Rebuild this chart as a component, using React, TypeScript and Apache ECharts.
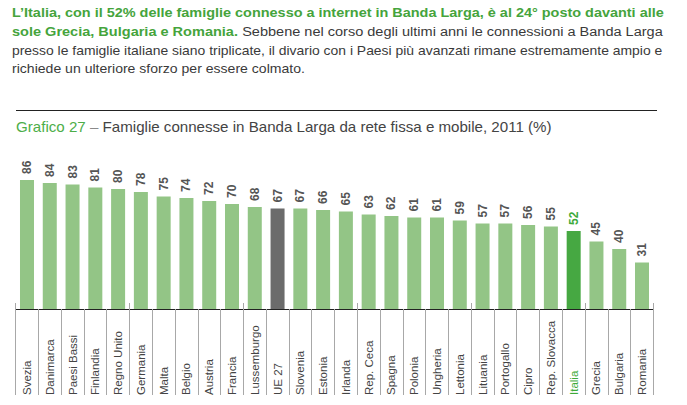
import React, { useEffect, useRef } from "react";
import * as echarts from "echarts";

const categories = [
  "Svezia", "Danimarca", "Paesi Bassi", "Finlandia", "Regno Unito", "Germania", "Malta",
  "Belgio", "Austria", "Francia", "Lussemburgo", "UE 27", "Slovenia", "Estonia", "Irlanda",
  "Rep. Ceca", "Spagna", "Polonia", "Ungheria", "Lettonia", "Lituania", "Portogallo", "Cipro",
  "Rep. Slovacca", "Italia", "Grecia", "Bulgaria", "Romania",
];
const values = [86, 84, 83, 81, 80, 78, 75, 74, 72, 70, 68, 67, 67, 66, 65, 63, 62, 61, 61, 59, 57, 57, 56, 55, 52, 45, 40, 31];

const headerLines = [
  [{ t: "L’Italia, con il 52% delle famiglie connesso a internet in Banda Larga, è al 24° posto davanti alle", g: true }],
  [
    { t: "sole Grecia, Bulgaria e Romania.", g: true },
    { t: " Sebbene nel corso degli ultimi anni le connessioni a Banda Larga", g: false },
  ],
  [{ t: "presso le famiglie italiane siano triplicate, il divario con i Paesi più avanzati rimane estremamente ampio e", g: false }],
  [{ t: "richiede un ulteriore sforzo per essere colmato.", g: false }],
];
const titleParts = [
  { t: "Grafico 27", c: "#4cae48" },
  { t: " – ", c: "#8a8a8a" },
  { t: "Famiglie connesse in Banda Larga da rete fissa e mobile, 2011 (%)", c: "#444444" },
];

const GREEN_TXT = "#45a43c";
const GRAY_TXT = "#3a3a3a";
const BAR = "#93c586";
const BAR_IT = "#46a842";
const BAR_EU = "#6b6b6b";
const FONT = "'Liberation Sans', Arial, sans-serif";

function measure(text: string, font: string): number {
  const c = document.createElement("canvas").getContext("2d")!;
  c.font = font;
  return c.measureText(text).width;
}

export default function App() {
  const ref = useRef<HTMLDivElement>(null);
  useEffect(() => {
    if (!ref.current) return;
    const chart = echarts.init(ref.current, null, { renderer: "svg" });

    const headerSize = 12.5;
    const lineTargets = [652, 651, 651, 293];
    const lineYs = [13, 32, 51, 69];
    const headerGraphics: any[] = headerLines.map((segs, li) => {
      let x = 0;
      const children: any[] = [];
      segs.forEach((s) => {
        const weight = s.g ? "bold" : "normal";
        const w = measure(s.t, `${weight} ${headerSize}px ${FONT}`);
        children.push({
          type: "text",
          x,
          y: 0,
          style: {
            text: s.t,
            fill: s.g ? GREEN_TXT : GRAY_TXT,
            fontSize: headerSize,
            fontFamily: FONT,
            fontWeight: weight,
            align: "left",
            verticalAlign: "middle",
          },
        });
        x += w;
      });
      return {
        type: "group",
        x: 12,
        y: lineYs[li],
        scaleX: lineTargets[li] / x,
        children,
      };
    });

    const titleSize = 15;
    let tx = 0;
    const titleChildren: any[] = titleParts.map((p) => {
      const w = measure(p.t, `normal ${titleSize}px ${FONT}`);
      const el = {
        type: "text",
        x: tx,
        y: 0,
        style: {
          text: p.t,
          fill: p.c,
          fontSize: titleSize,
          fontFamily: FONT,
          align: "left",
          verticalAlign: "middle",
        },
      };
      tx += w;
      return el;
    });

    const option: any = {
      animation: false,
      backgroundColor: "#ffffff",
      grid: {
        left: 15.6,
        right: 33.6,
        top: 159,
        bottom: 96,
        containLabel: false,
        outerBoundsMode: "none",
      },
      xAxis: [
        {
          type: "category",
          data: categories,
          position: "bottom",
          axisLine: { show: true, lineStyle: { color: "#222222", width: 1.2 } },
          axisTick: { show: true, inside: false, length: 86, lineStyle: { color: "#a8a8a8", width: 1 } },
          axisLabel: {
            rotate: 90,
            align: "left",
            verticalAlign: "middle",
            margin: 86,
            fontSize: 11.5,
            fontFamily: FONT,
            color: (v: string) => (v === "Italia" ? "#3daa3a" : "#444444"),
            interval: 0,
          },
          splitLine: { show: false },
        },
        {
          type: "category",
          data: categories,
          position: "bottom",
          offset: 0,
          axisLine: { show: false },
          axisTick: { show: true, inside: true, length: 6, lineStyle: { color: "#a8a8a8", width: 1 } },
          axisLabel: { show: false },
          splitLine: { show: false },
        },
      ],
      yAxis: { type: "value", min: 0, max: 100, show: false },
      series: [
        {
          type: "bar",
          xAxisIndex: 0,
          barWidth: 14,
          data: values.map((v, i) => {
            const name = categories[i];
            const color = name === "Italia" ? BAR_IT : name === "UE 27" ? BAR_EU : BAR;
            return {
              value: v,
              itemStyle: { color },
              label: { color: name === "Italia" ? "#3daa3a" : "#555555" },
            };
          }),
          label: {
            show: true,
            position: "top",
            rotate: 90,
            align: "left",
            verticalAlign: "middle",
            distance: 6,
            fontSize: 12,
            fontWeight: "bold",
            fontFamily: FONT,
            color: "#555555",
          },
        },
      ],
      graphic: [
        ...headerGraphics,
        {
          type: "line",
          shape: { x1: 16, y1: 110.5, x2: 657, y2: 110.5 },
          style: { stroke: "#222222", lineWidth: 1.2 },
        },
        {
          type: "group",
          x: 16,
          y: 127,
          scaleX: 536 / tx,
          children: titleChildren,
        },
      ],
    };
    chart.setOption(option);
    return () => chart.dispose();
  }, []);

  return (
    <div
      ref={ref}
      style={{ position: "fixed", left: 0, top: 0, width: 687, height: 405, background: "#fff" }}
    />
  );
}
